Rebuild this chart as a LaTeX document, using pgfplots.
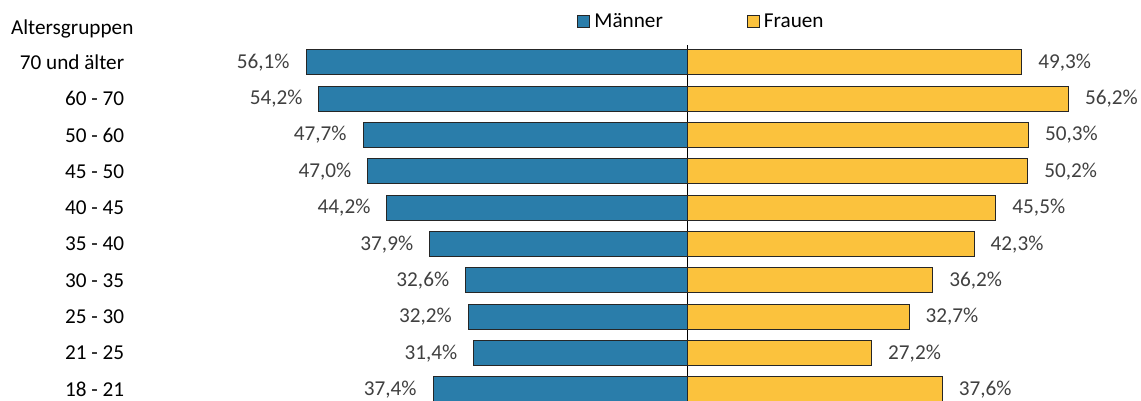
\documentclass[border=0pt]{standalone}
\usepackage{fontspec}
\setmainfont{Carlito}
\usepackage{pgfplots}
\usepackage{pgfplotstable}
\pgfplotsset{compat=1.18}

\definecolor{maenner}{HTML}{2A7DAA}
\definecolor{frauen}{HTML}{FBC23D}
\definecolor{labelgray}{HTML}{404040}
\definecolor{edge}{HTML}{262626}

% pos = row (0 = bottom), values in percent, labels with decimal comma
\pgfplotstableread{
pos maenner mlab frauen flab
9 -56.1 56,1 49.3 49,3
8 -54.2 54,2 56.2 56,2
7 -47.7 47,7 50.3 50,3
6 -47.0 47,0 50.2 50,2
5 -44.2 44,2 45.5 45,5
4 -37.9 37,9 42.3 42,3
3 -32.6 32,6 36.2 36,2
2 -32.2 32,2 32.7 32,7
1 -31.4 31,4 27.2 27,2
0 -37.4 37,4 37.6 37,6
}\agedata

\begin{document}
\begin{tikzpicture}[font=\fontsize{10.6}{12.7}\selectfont]
\begin{axis}[
    scale only axis,
    width=498.4pt, height=178pt,
    xbar, bar width=12.5pt, bar shift=0pt,
    xmin=-80, xmax=66.8,
    ymin=-0.317, ymax=9.48,
    axis line style={draw=none},
    xtick=\empty,
    ytick={0,...,9},
    yticklabels={18 - 21, 21 - 25, 25 - 30, 30 - 35, 35 - 40, 40 - 45, 45 - 50, 50 - 60, 60 - 70, 70 und älter},
    tick style={draw=none},
    yticklabel style={xshift=-2pt, text=black},
    extra x ticks={0},
    extra x tick labels={},
    extra x tick style={grid=major, major grid style={black, line width=0.5pt}},
    point meta=explicit symbolic,
    nodes near coords={\pgfplotspointmeta\%},
    nodes near coords style={text=labelgray, inner xsep=8pt},
    legend columns=2,
    legend image code/.code={\draw[#1] (0pt,-3pt) rectangle (6pt,3pt);},
    legend style={at={(axis description cs:0.4346,1)}, anchor=west, yshift=11.5pt,
        draw=none, fill=none, inner sep=0pt,
        /tikz/every even column/.append style={column sep=40pt}},
]
\addplot[fill=maenner, draw=edge, line width=0.5pt,
    nodes near coords style={anchor=east}]
    table[x=maenner, y=pos, meta=mlab] {\agedata};
\addlegendentry{Männer}
\addplot[fill=frauen, draw=edge, line width=0.5pt,
    nodes near coords style={anchor=west}]
    table[x=frauen, y=pos, meta=flab] {\agedata};
\addlegendentry{Frauen}
\end{axis}
\node[anchor=west] at (-69.9pt,186pt) {Altersgruppen};
\pgfresetboundingbox
\path (-71.9pt,0pt) rectangle (498.6pt,200.5pt);
\end{tikzpicture}
\end{document}
